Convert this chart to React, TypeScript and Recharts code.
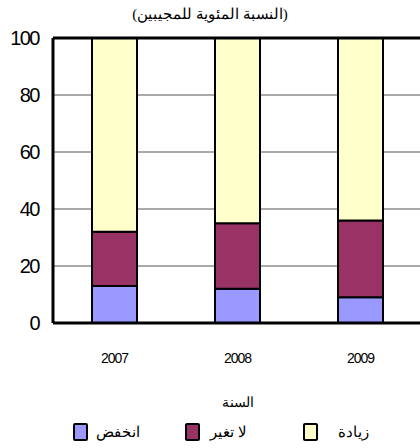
import { BarChart, Bar, XAxis, YAxis, CartesianGrid, ReferenceLine } from 'recharts'

const years = ['2007', '2008', '2009']
const decrease = [13, 12, 9]
const noChange = [19, 23, 27]
const increase = [68, 65, 64]
const yTicks = [0, 20, 40, 60, 80, 100]

const labels = { decrease: 'انخفض', noChange: 'لا تغير', increase: 'زيادة' }
const colors = { decrease: '#9999ff', noChange: '#993366', increase: '#ffffcc' }

const data = years.map((y, i) => ({
  year: y,
  decrease: decrease[i],
  noChange: noChange[i],
  increase: increase[i],
}))

const legendItems = [
  { key: 'decrease', left: 73, gap: 8 },
  { key: 'noChange', left: 185, gap: 10 },
  { key: 'increase', left: 303, gap: 20 },
] as const

function LegendBox() {
  return (
    <div style={{ position: 'absolute', left: 0, top: 423, width: 420, height: 20 }}>
      {legendItems.map((it) => (
        <div
          key={it.key}
          style={{ position: 'absolute', left: it.left, top: 0, display: 'flex', alignItems: 'center' }}
        >
          <span
            style={{
              display: 'inline-block',
              width: 11,
              height: 14,
              border: '2px solid #000',
              borderRadius: 2,
              background: colors[it.key],
            }}
          />
          <span style={{ marginLeft: it.gap, fontSize: 15, fontFamily: 'serif', color: '#000' }}>
            {labels[it.key]}
          </span>
        </div>
      ))}
    </div>
  )
}

export default function App() {
  return (
    <div
      style={{
        position: 'absolute',
        left: 0,
        top: 0,
        width: 420,
        height: 448,
        overflow: 'hidden',
        background: '#fff',
      }}
    >
      <div
        style={{
          position: 'absolute',
          top: 5,
          left: 0,
          width: 420,
          textAlign: 'center',
          fontSize: 15,
          fontFamily: 'serif',
          fontWeight: 'normal',
          color: '#000',
        }}
      >
        (النسبة المئوية للمجيبين)
      </div>
      <BarChart
        width={430}
        height={448}
        data={data}
        margin={{ top: 38, right: 8, bottom: 55, left: 0 }}
        barSize={45}
      >
        <CartesianGrid horizontal vertical={false} stroke="#555" />
        <XAxis
          dataKey="year"
          axisLine={{ stroke: '#000', strokeWidth: 3 }}
          tickLine={false}
          tickMargin={24}
          height={70}
          tick={{ fill: '#000', fontSize: 14, fontFamily: 'Liberation Sans', letterSpacing: -1 }}
          label={{ value: 'السنة', position: 'bottom', offset: 4, fill: '#000', fontSize: 14, fontFamily: 'serif' }}
        />
        <YAxis
          width={53}
          domain={[0, 100]}
          ticks={yTicks}
          interval={0}
          axisLine={{ stroke: '#000', strokeWidth: 3 }}
          tickLine={false}
          tickMargin={8}
          tick={{ fill: '#000', fontSize: 20, fontFamily: 'Liberation Sans', letterSpacing: -1.5 }}
        />
        <ReferenceLine y={100} stroke="#000" strokeWidth={3} />
        <Bar dataKey="decrease" stackId="a" fill={colors.decrease} stroke="#000" strokeWidth={2} isAnimationActive={false} />
        <Bar dataKey="noChange" stackId="a" fill={colors.noChange} stroke="#000" strokeWidth={2} isAnimationActive={false} />
        <Bar dataKey="increase" stackId="a" fill={colors.increase} stroke="#000" strokeWidth={2} isAnimationActive={false} />
      </BarChart>
      <LegendBox />
    </div>
  )
}
